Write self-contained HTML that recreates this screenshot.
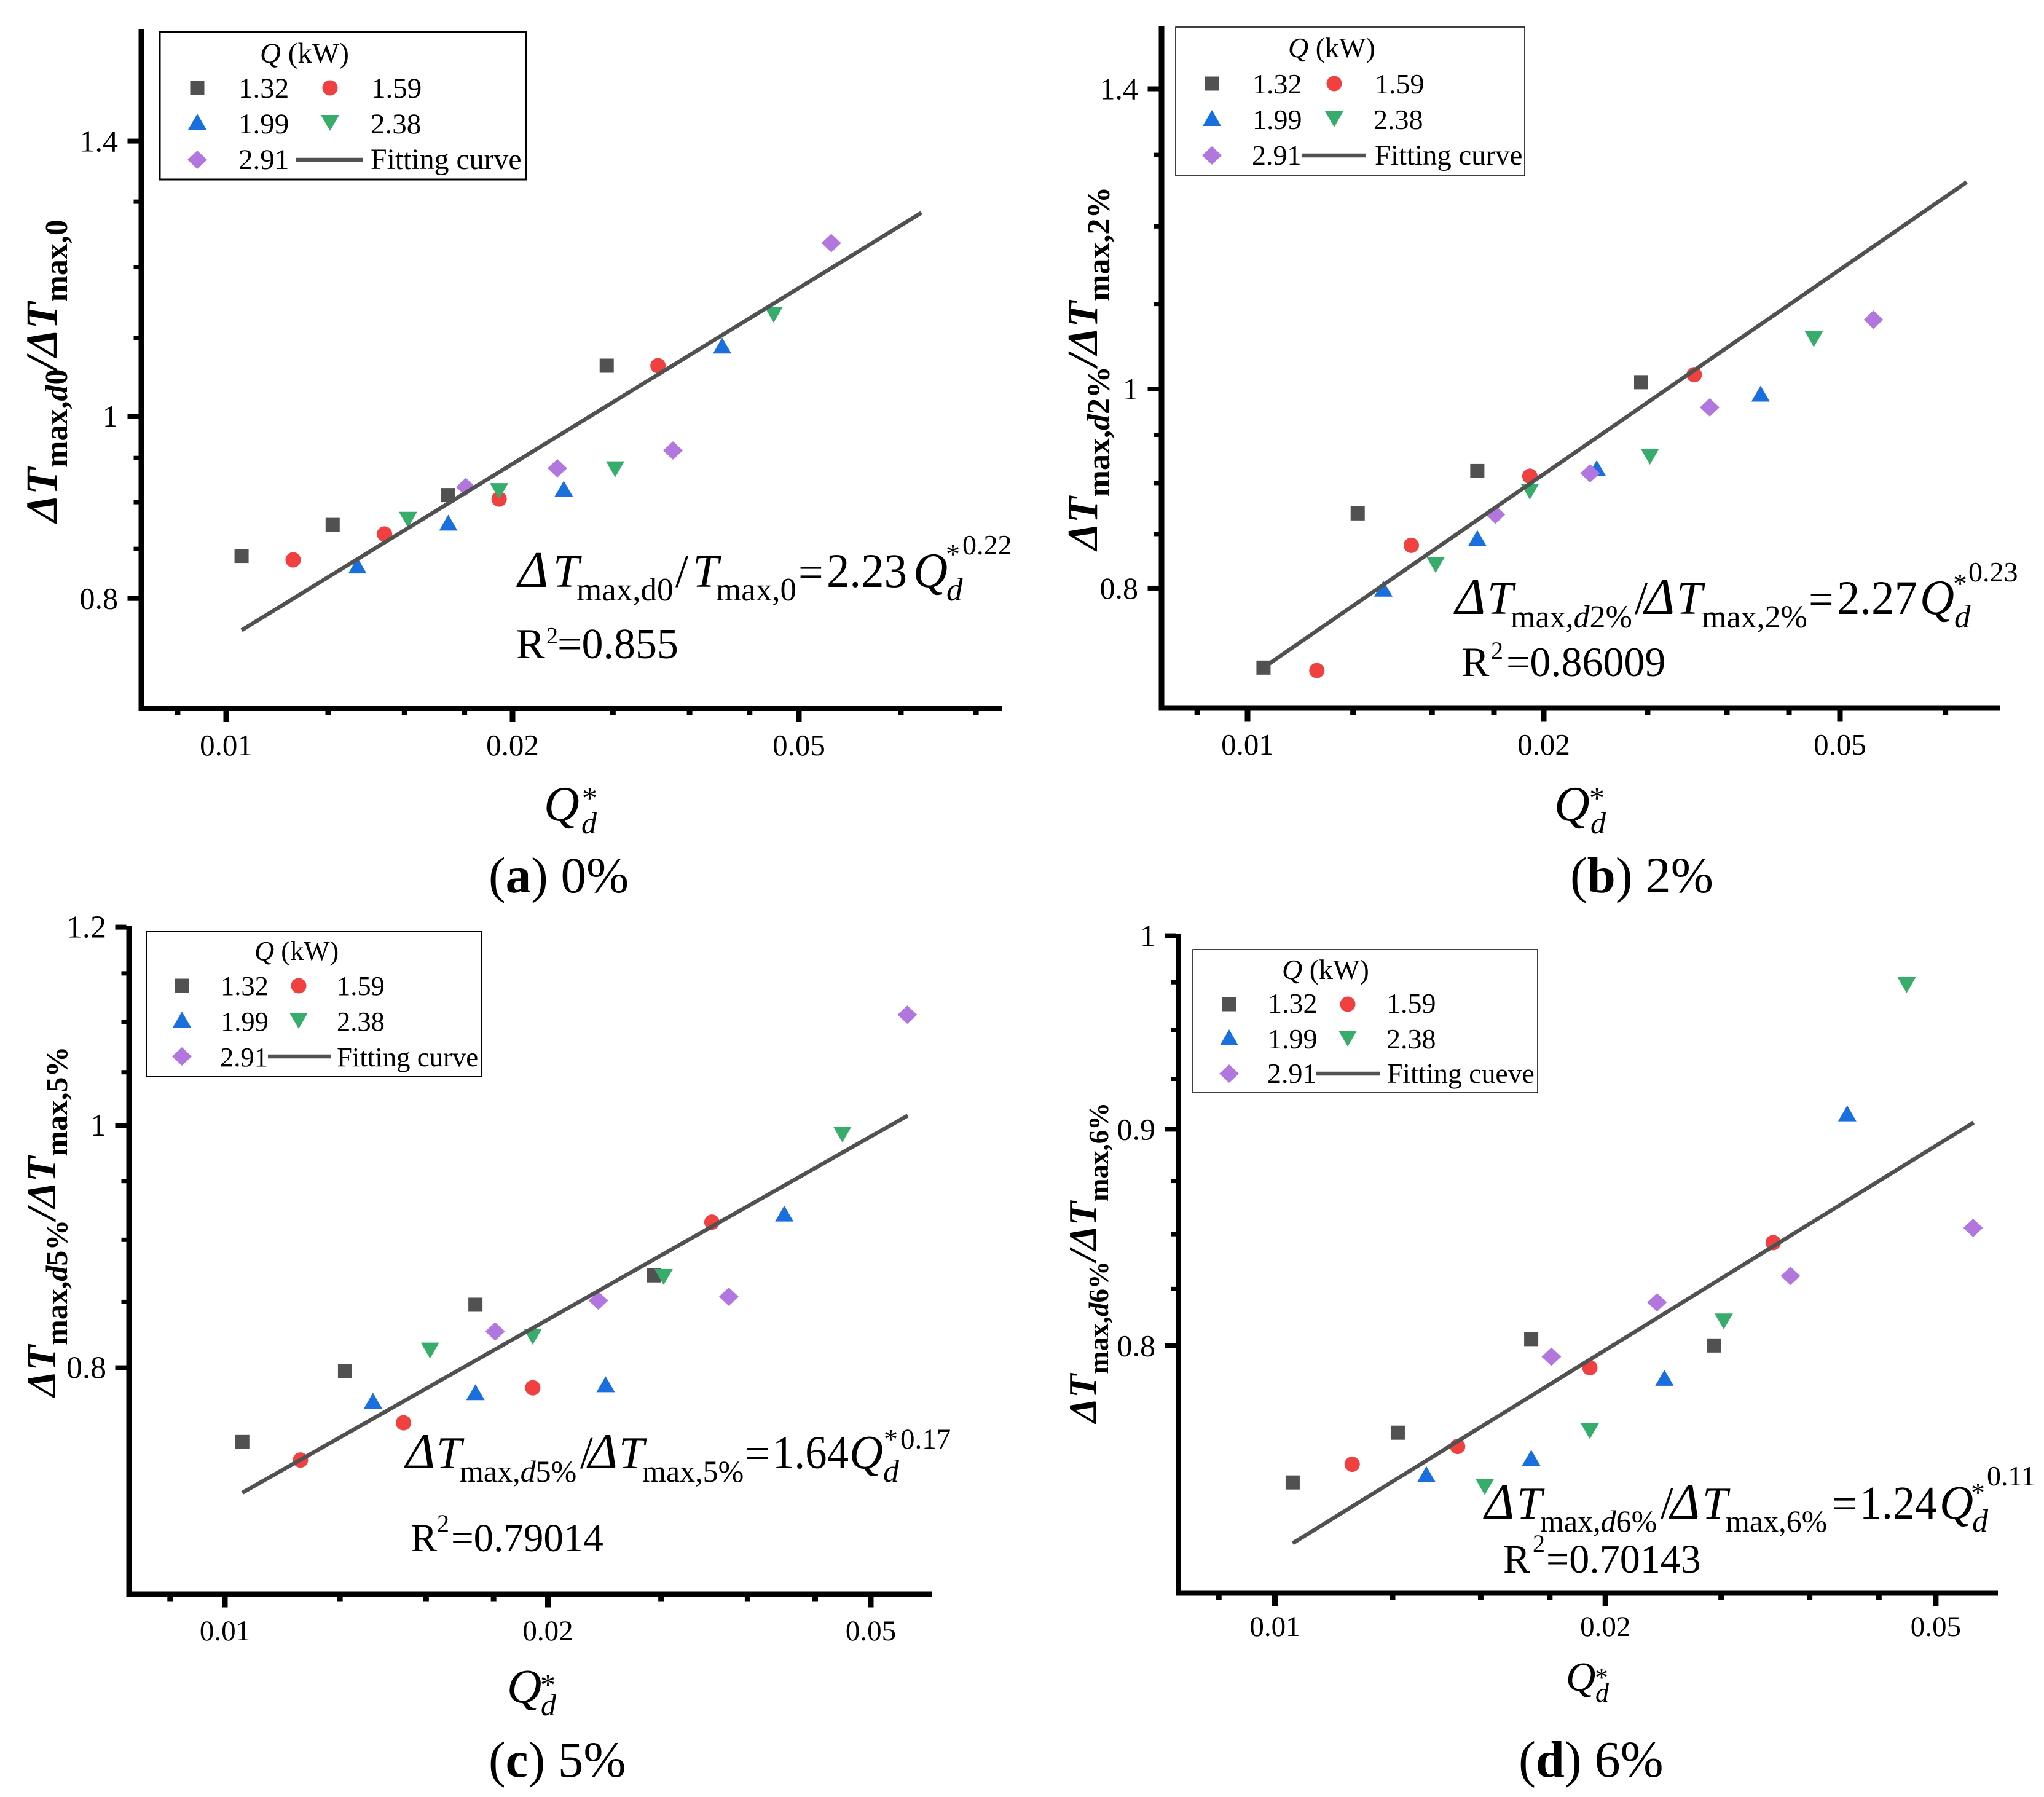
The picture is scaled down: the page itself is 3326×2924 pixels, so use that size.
<!DOCTYPE html>
<html lang="en">
<head>
<meta charset="utf-8">
<title>Normalized temperature rise fitting curves</title>
<style>
html,body{margin:0;padding:0;background:#fff;}
svg{display:block;}
text{font-family:"Liberation Serif",serif;fill:#000;}
.i{font-style:italic;}
.bi{font-style:italic;font-weight:bold;}
.b{font-weight:bold;}
</style>
</head>
<body>
<svg id="figure" xmlns="http://www.w3.org/2000/svg" width="3326" height="2924" viewBox="0 0 3326 2924">
<rect x="0" y="0" width="3326" height="2924" fill="#fff"/>
<g id="marks-a"></g>
<g id="marks-b"></g>
<g id="marks-c"></g>
<g id="marks-d"></g>

<!-- Y axis titles -->
<text transform="translate(92 850) rotate(-90)" class="bi" font-size="72">ΔT<tspan class="b" style="font-style:normal" font-size="52" dy="17">max,</tspan><tspan font-size="52">d</tspan><tspan class="b" style="font-style:normal" font-size="52">0</tspan><tspan font-size="72" dy="-17">/ΔT</tspan><tspan class="b" style="font-style:normal" font-size="52" dy="17">max,0</tspan></text>
<text transform="translate(1785 895) rotate(-90)" class="bi" font-size="70">ΔT<tspan class="b" style="font-style:normal" font-size="52" dy="20">max,</tspan><tspan font-size="52">d</tspan><tspan class="b" style="font-style:normal" font-size="52">2%</tspan><tspan font-size="70" dy="-20">/ΔT</tspan><tspan class="b" style="font-style:normal" font-size="52" dy="20">max,2%</tspan></text>
<text transform="translate(90 2273) rotate(-90)" class="bi" font-size="68">ΔT<tspan class="b" style="font-style:normal" font-size="50" dy="19">max,</tspan><tspan font-size="50">d</tspan><tspan class="b" style="font-style:normal" font-size="50">5%</tspan><tspan font-size="68" dy="-19">/ΔT</tspan><tspan class="b" style="font-style:normal" font-size="50" dy="19">max,5%</tspan></text>
<text transform="translate(1783 2315) rotate(-90)" class="bi" font-size="64">ΔT<tspan class="b" style="font-style:normal" font-size="45" dy="20">max,</tspan><tspan font-size="45">d</tspan><tspan class="b" style="font-style:normal" font-size="45">6%</tspan><tspan font-size="64" dy="-20">/ΔT</tspan><tspan class="b" style="font-style:normal" font-size="45" dy="20">max,6%</tspan></text>

<!-- X axis titles -->
<g>
<text x="885" y="1335" class="i" font-size="80">Q</text><text x="946" y="1356" class="i" font-size="50">d</text><text x="947" y="1315" font-size="50">*</text>
</g>
<g>
<text x="2529" y="1335" class="i" font-size="80">Q</text><text x="2588" y="1356" class="i" font-size="50">d</text><text x="2586" y="1315" font-size="50">*</text>
</g>
<g>
<text x="825" y="2770" class="i" font-size="78">Q</text><text x="880" y="2791" class="i" font-size="50">d</text><text x="879" y="2758" font-size="50">*</text>
</g>
<g>
<text x="2548" y="2751" class="i" font-size="67">Q</text><text x="2596" y="2769" class="i" font-size="44">d</text><text x="2595" y="2744" font-size="44">*</text>
</g>

<!-- Captions -->
<text x="795" y="1452" font-size="83">(<tspan class="b">a</tspan>) 0%</text>
<text x="2555" y="1452" font-size="83">(<tspan class="b">b</tspan>) 2%</text>
<text x="795" y="2891" font-size="83">(<tspan class="b">c</tspan>) 5%</text>
<text x="2471" y="2891" font-size="84">(<tspan class="b">d</tspan>) 6%</text>

<!-- Equations -->
<g>
<text x="843" y="955" class="i" font-size="84">Δ</text><text x="900" y="955" class="i" font-size="76">T</text>
<text x="938" y="977" font-size="53">max,d0</text><text x="1099" y="955" font-size="76">/</text>
<text x="1127" y="955" class="i" font-size="76">T</text><text x="1165" y="977" font-size="53">max,0</text>
<text x="1299" y="955" font-size="72">=</text><text x="1345" y="955" font-size="78" textLength="131" lengthAdjust="spacingAndGlyphs">2.23</text>
<text x="1486" y="955" class="i" font-size="80" textLength="56" lengthAdjust="spacingAndGlyphs">Q</text><text x="1540" y="977" class="i" font-size="53">d</text>
<text x="1539" y="917" font-size="46">*</text><text x="1566" y="902" font-size="46">0.22</text>
</g>
<g>
<text x="840" y="1071" font-size="70">R</text><text x="889" y="1047" font-size="38">2</text><text x="907" y="1071" font-size="70">=0.855</text>
</g>
<g>
<text x="2368" y="999" class="i" font-size="84">Δ</text><text x="2420" y="999" class="i" font-size="76">T</text>
<text x="2458" y="1021" font-size="52">max,<tspan class="i">d</tspan>2%</text><text x="2660" y="999" font-size="76">/</text>
<text x="2676" y="999" class="i" font-size="84">Δ</text><text x="2728" y="999" class="i" font-size="76">T</text>
<text x="2769" y="1021" font-size="52">max,2%</text>
<text x="2943" y="999" font-size="72">=</text><text x="2989" y="999" font-size="78" textLength="131" lengthAdjust="spacingAndGlyphs">2.27</text>
<text x="3124" y="999" class="i" font-size="80" textLength="56" lengthAdjust="spacingAndGlyphs">Q</text><text x="3180" y="1021" class="i" font-size="53">d</text>
<text x="3178" y="965" font-size="46">*</text><text x="3203" y="946" font-size="46">0.23</text>
</g>
<g>
<text x="2378" y="1100" font-size="68">R</text><text x="2426" y="1072" font-size="40">2</text><text x="2451" y="1100" font-size="68">=0.86009</text>
</g>
<g>
<text x="660" y="2389" class="i" font-size="82">Δ</text><text x="710" y="2389" class="i" font-size="74">T</text>
<text x="748" y="2411" font-size="50">max,<tspan class="i">d</tspan>5%</text><text x="944" y="2389" font-size="74">/</text>
<text x="957" y="2389" class="i" font-size="82">Δ</text><text x="1007" y="2389" class="i" font-size="74">T</text>
<text x="1045" y="2411" font-size="50">max,5%</text>
<text x="1212" y="2389" font-size="72">=</text><text x="1257" y="2389" font-size="76" textLength="124" lengthAdjust="spacingAndGlyphs">1.64</text>
<text x="1382" y="2389" class="i" font-size="78" textLength="55" lengthAdjust="spacingAndGlyphs">Q</text><text x="1437" y="2411" class="i" font-size="52">d</text>
<text x="1438" y="2357" font-size="46">*</text><text x="1465" y="2357" font-size="47">0.17</text>
</g>
<g>
<text x="668" y="2524" font-size="65">R</text><text x="711" y="2492" font-size="40">2</text><text x="734" y="2524" font-size="65">=0.79014</text>
</g>
<g>
<text x="2416" y="2471" class="i" font-size="82">Δ</text><text x="2468" y="2471" class="i" font-size="74">T</text>
<text x="2506" y="2492" font-size="50">max,<tspan class="i">d</tspan>6%</text><text x="2702" y="2471" font-size="74">/</text>
<text x="2718" y="2471" class="i" font-size="82">Δ</text><text x="2770" y="2471" class="i" font-size="74">T</text>
<text x="2808" y="2492" font-size="50">max,6%</text>
<text x="2981" y="2471" font-size="72">=</text><text x="3026" y="2471" font-size="76" textLength="126" lengthAdjust="spacingAndGlyphs">1.24</text>
<text x="3156" y="2471" class="i" font-size="78" textLength="55" lengthAdjust="spacingAndGlyphs">Q</text><text x="3209" y="2492" class="i" font-size="52">d</text>
<text x="3207" y="2444" font-size="46">*</text><text x="3233" y="2417" font-size="46">0.11</text>
</g>
<g>
<text x="2446" y="2559" font-size="66">R</text><text x="2494" y="2525" font-size="40">2</text><text x="2516" y="2559" font-size="66">=0.70143</text>
</g>
<g id="legends"></g>
</svg>
<script>
// Shared Q*d values for each heat release rate series
const q132X = [0.01038, 0.01294, 0.01712, 0.02512];
const q159X = [0.01176, 0.01467, 0.01936, 0.02844];
const q199X = [0.01374, 0.01712, 0.02264, 0.03322];
const q238X = [0.01553, 0.01936, 0.02564, 0.03763];
const q291X = [0.01786, 0.02229, 0.02949, 0.04326];
const fitX = [0.01038, 0.0538];
const fitXShort = [0.01038, 0.0433];

// Panel (a) 0%
const a132 = [0.8427, 0.8753, 0.9078, 1.0636];
const a159 = [0.8386, 0.8656, 0.9034, 1.0636];
const a199 = [0.8323, 0.8771, 0.9142, 1.0893];
const a238 = [0.8815, 0.9129, 0.9376, 1.1329];
const a291 = [0.9168, 0.9382, 0.9588, 1.2358];
const aFit = [0.7694, 1.2824];
// Panel (b) 2%
const b132 = [0.7318, 0.8699, 0.9122, 1.0077];
const b159 = [0.7294, 0.8393, 0.9069, 1.0162];
const b199 = [0.7990, 0.8456, 0.9146, 0.9942];
const b238 = [0.8216, 0.8919, 0.9276, 1.0582];
const b291 = [0.8687, 0.9099, 0.9796, 1.0808];
const bFit = [0.7318, 1.2609];
// Panel (c) 5%
const c132 = [0.7472, 0.7976, 0.8478, 0.8710];
const c159 = [0.7349, 0.7605, 0.7854, 0.9147];
const c199 = [0.7757, 0.7818, 0.7875, 0.9215];
const c238 = [0.8132, 0.8236, 0.8702, 0.9921];
const c291 = [0.8272, 0.8510, 0.8541, 1.1071];
const cFit = [0.7131, 1.0090];
// Panel (d) 6%
const d132 = [0.7425, 0.7629, 0.8028, 0.8000];
const d159 = [0.7499, 0.7572, 0.7904, 0.8461];
const d199 = [0.7456, 0.7523, 0.7858, 0.9075];
const d238 = [0.7409, 0.7638, 0.8108, 0.9738];
const d291 = [0.7951, 0.8190, 0.8309, 0.8529];
const dFit = [0.7183, 0.9033];

// Tick values and labels
const xMajorTicks = [0.01, 0.02, 0.04];
const xMajorLabels = ["0.01", "0.02", "0.05"];
const xMinorTicks = [0.00889, 0.0128, 0.0154, 0.0178, 0.0255, 0.0307, 0.0355, 0.0512, 0.0614];
const abYMajorTicks = [0.8, 1, 1.4];
const abYMajorLabels = ["0.8", "1", "1.4"];
const abYMinorTicks = [0.85, 0.9, 0.95, 1.1, 1.2, 1.3];
const cYMajorTicks = [0.8, 1, 1.2];
const cYMajorLabels = ["0.8", "1", "1.2"];
const cYMinorTicks = [0.85, 0.9, 0.95, 1.05, 1.1, 1.15];
const dYMajorTicks = [0.8, 0.9, 1];
const dYMajorLabels = ["0.8", "0.9", "1"];
const dYMinorTicks = [0.825, 0.85, 0.875, 0.925, 0.95, 0.975];

const legendLabels = ["1.32", "1.59", "1.99", "2.38", "2.91"];
const seriesKinds = ["square", "circle", "up", "down", "diamond"];
const seriesColors = ["#515151", "#F14040", "#1A6FDF", "#37AD6B", "#B177DE"];
const seriesXs = [q132X, q159X, q199X, q238X, q291X];

const NS = "http://www.w3.org/2000/svg";
function make(tag, parent, attrs) {
  const e = document.createElementNS(NS, tag);
  for (const k in attrs) e.setAttribute(k, attrs[k]);
  parent.appendChild(e);
  return e;
}
function marker(parent, kind, cx, cy, color) {
  if (kind === "square") {
    return make("rect", parent, {x: cx - 11.5, y: cy - 11.5, width: 23, height: 23, fill: color});
  }
  if (kind === "circle") {
    return make("ellipse", parent, {cx: cx, cy: cy, rx: 12.5, ry: 12.5, fill: color});
  }
  let pts;
  if (kind === "up") {
    pts = [[cx, cy - 14], [cx + 15, cy + 12], [cx - 15, cy + 12]];
  } else if (kind === "down") {
    pts = [[cx - 15, cy - 12], [cx + 15, cy - 12], [cx, cy + 14]];
  } else {
    pts = [[cx, cy - 15], [cx + 16, cy], [cx, cy + 15], [cx - 16, cy]];
  }
  return make("polygon", parent, {points: pts.map(function (p) { return p.join(","); }).join(" "), fill: color});
}

function drawChart(cfg) {
  const g = document.getElementById(cfg.id);
  const sx = function (v) { return cfg.x0 + cfg.kx * Math.log2(v / 0.01); };
  const sy = function (v) { return cfg.y1 - cfg.ky * Math.log2(v); };
  const half = cfg.thick / 2;
  const xAxis = make("rect", g, {x: cfg.axisX - half, y: cfg.axisY - half, width: cfg.right - cfg.axisX + half, height: cfg.thick, fill: "#000"});
  
  
  const yAxis = make("rect", g, {x: cfg.axisX - half, y: cfg.top, width: cfg.thick, height: cfg.axisY - cfg.top + half, fill: "#000"});
  
  

  xMajorTicks.forEach(function (v, i) {
    const px = sx(v);
    const t = make("rect", g, {x: px - 4.5, y: cfg.axisY + half, width: 9, height: 17, fill: "#000"});
    
    
    const l = make("text", g, {x: px, y: cfg.xLabelY, "font-size": cfg.xFont, "text-anchor": "middle"});
    l.textContent = xMajorLabels[i];
    
    
  });
  xMinorTicks.forEach(function (v) {
    const px = sx(v);
    if (px > cfg.right - 5) return;
    const t = make("rect", g, {x: px - 4.5, y: cfg.axisY + half, width: 9, height: 7, fill: "#000"});
    
    
  });
  cfg.yMajor.forEach(function (v, i) {
    const py = sy(v);
    const t = make("rect", g, {x: cfg.axisX - half - 18, y: py - 4, width: 18, height: 8, fill: "#000"});
    
    
    const l = make("text", g, {x: cfg.yLabelX, y: py + 17, "font-size": cfg.yFont, "text-anchor": "end"});
    l.textContent = cfg.yLabels[i];
    
    
  });
  cfg.yMinor.forEach(function (v) {
    const py = sy(v);
    const t = make("rect", g, {x: cfg.axisX - half - 8, y: py - 3.5, width: 8, height: 7, fill: "#000"});
    
    
  });

  cfg.series.forEach(function (ys, si) {
    ys.forEach(function (v, i) {
      const m = marker(g, seriesKinds[si], sx(seriesXs[si][i]), sy(v), seriesColors[si]);
      
      
    });
  });

  const fit = make("line", g, {x1: sx(cfg.fitXs[0]), y1: sy(cfg.fit[0]), x2: sx(cfg.fitXs[1]), y2: sy(cfg.fit[1]), stroke: "#515151", "stroke-width": 6.5});
  
  
}

function drawLegend(c) {
  const parent = document.getElementById("legends");
  const g = make("g", parent, {});
  
  
  make("rect", g, {x: c.x, y: c.y, width: c.w, height: c.h, fill: "#fff", stroke: "#000", "stroke-width": c.border});
  const title = make("text", g, {x: c.titleX, y: c.titleY, "font-size": c.font});
  title.innerHTML = '<tspan class="i">Q</tspan> (kW)';
  
  
  const items = [
    [c.mx1, c.rowC[0], c.tx1, c.rowB[0]],
    [c.mx2, c.rowC[0], c.tx2, c.rowB[0]],
    [c.mx1, c.rowC[1], c.tx1, c.rowB[1]],
    [c.mx2, c.rowC[1], c.tx2b, c.rowB[1]],
    [c.mx1, c.rowC[2], c.tx3, c.rowB[2]]
  ];
  items.forEach(function (it, i) {
    const m = marker(g, seriesKinds[i], it[0], it[1], seriesColors[i]);
    
    
    const t = make("text", g, {x: it[2], y: it[3], "font-size": c.font});
    t.textContent = legendLabels[i];
    
    
  });
  const ln = make("line", g, {x1: c.lx1, y1: c.rowC[2], x2: c.lx2, y2: c.rowC[2], stroke: "#515151", "stroke-width": 6.5});
  
  
  const ft = make("text", g, {x: c.ftx, y: c.rowB[2], "font-size": c.fitFont});
  ft.textContent = c.fitLabel;
  
  
}

drawChart({id: "marks-a", x0: 368, kx: 466, y1: 677, ky: 921.7, axisX: 230, axisY: 1152.5, thick: 9, top: 47, right: 1630,
  xLabelY: 1229, xFont: 49, yLabelX: 192, yFont: 50, yMajor: abYMajorTicks, yLabels: abYMajorLabels, yMinor: abYMinorTicks,
  series: [a132, a159, a199, a238, a291], fit: aFit, fitXs: fitX});
drawChart({id: "marks-b", x0: 2030, kx: 482, y1: 633, ky: 1006.3, axisX: 1890, axisY: 1152, thick: 9, top: 42, right: 3254,
  xLabelY: 1228, xFont: 49, yLabelX: 1852, yFont: 50, yMajor: abYMajorTicks, yLabels: abYMajorLabels, yMinor: abYMinorTicks,
  series: [b132, b159, b199, b238, b291], fit: bFit, fitXs: fitX});
drawChart({id: "marks-c", x0: 366, kx: 525.5, y1: 1831, ky: 1225.7, axisX: 210, axisY: 2594, thick: 9, top: 1506, right: 1517,
  xLabelY: 2669, xFont: 47, yLabelX: 173, yFont: 52, yMajor: cYMajorTicks, yLabels: cYMajorLabels, yMinor: cYMinorTicks,
  series: [c132, c159, c199, c238, c291], fit: cFit, fitXs: fitXShort});
drawChart({id: "marks-d", x0: 2074.5, kx: 537.7, y1: 1522.6, ky: 2071, axisX: 1917.5, axisY: 2592, thick: 9, top: 1520, right: 3251,
  xLabelY: 2662, xFont: 47, yLabelX: 1880, yFont: 50, yMajor: dYMajorTicks, yLabels: dYMajorLabels, yMinor: dYMinorTicks,
  series: [d132, d159, d199, d238, d291], fit: dFit, fitXs: fitXShort});

drawLegend({id: "a", x: 260, y: 52, w: 596, h: 240, border: 3, font: 47, fitFont: 47.8, titleX: 423, titleY: 102,
  mx1: 321, mx2: 537, tx1: 388, tx2: 604, tx2b: 603, tx3: 388, rowC: [143, 199, 260], rowB: [159, 217, 275],
  lx1: 482, lx2: 591, ftx: 603, fitLabel: "Fitting curve"});
drawLegend({id: "b", x: 1913, y: 44, w: 568, h: 242, border: 1.5, font: 46, fitFont: 46.8, titleX: 2096, titleY: 93,
  mx1: 1972, mx2: 2171, tx1: 2038, tx2: 2237, tx2b: 2235, tx3: 2037, rowC: [136, 193, 253], rowB: [152, 210, 268],
  lx1: 2119, lx2: 2222, ftx: 2237, fitLabel: "Fitting curve"});
drawLegend({id: "c", x: 239, y: 1516, w: 544, h: 236, border: 2, font: 44.5, fitFont: 44.8, titleX: 414, titleY: 1562,
  mx1: 296, mx2: 486, tx1: 359, tx2: 548, tx2b: 548, tx3: 358, rowC: [1604, 1660, 1719], rowB: [1619, 1677, 1735],
  lx1: 436, lx2: 538, ftx: 548, fitLabel: "Fitting curve"});
drawLegend({id: "d", x: 1941, y: 1545, w: 561, h: 233, border: 1.5, font: 46, fitFont: 45.7, titleX: 2086, titleY: 1593,
  mx1: 2000, mx2: 2193, tx1: 2063, tx2: 2256, tx2b: 2256, tx3: 2062, rowC: [1634, 1689, 1747], rowB: [1648, 1706, 1762],
  lx1: 2142, lx2: 2245, ftx: 2257, fitLabel: "Fitting cueve"});
</script>
</body>
</html>
